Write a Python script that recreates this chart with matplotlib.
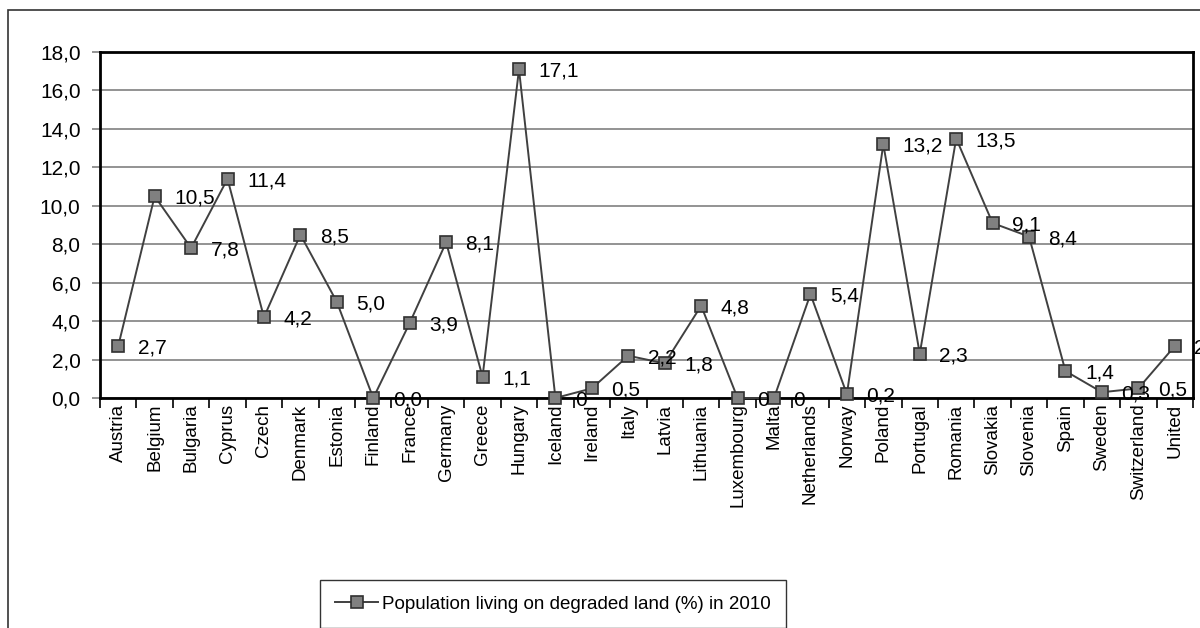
import numpy as np
import matplotlib.pyplot as plt
from matplotlib.patches import Rectangle
from matplotlib.ticker import FuncFormatter

plt.rcParams['font.family'] = ['Liberation Sans', 'DejaVu Sans']

countries = ['Austria', 'Belgium', 'Bulgaria', 'Cyprus', 'Czech', 'Denmark',
             'Estonia', 'Finland', 'France', 'Germany', 'Greece', 'Hungary',
             'Iceland', 'Ireland', 'Italy', 'Latvia', 'Lithuania', 'Luxembourg',
             'Malta', 'Netherlands', 'Norway', 'Poland', 'Portugal', 'Romania',
             'Slovakia', 'Slovenia', 'Spain', 'Sweden', 'Switzerland', 'United']
degraded = [2.7, 10.5, 7.8, 11.4, 4.2, 8.5, 5.0, 0.0, 3.9, 8.1, 1.1, 17.1,
            0, 0.5, 2.2, 1.8, 4.8, 0, 0, 5.4, 0.2, 13.2, 2.3, 13.5,
            9.1, 8.4, 1.4, 0.3, 0.5, 2.7]
# a few values were published without a decimal place
point_labels = ['2,7', '10,5', '7,8', '11,4', '4,2', '8,5', '5,0', '0,0', '3,9',
                '8,1', '1,1', '17,1', '0', '0,5', '2,2', '1,8', '4,8', '0', '0',
                '5,4', '0,2', '13,2', '2,3', '13,5', '9,1', '8,4', '1,4', '0,3',
                '0,5', '2,7']

fig = plt.figure(figsize=(12, 6.28), dpi=100)
ax = fig.add_axes([100 / 1200, 1 - 398 / 628, 1093 / 1200, 346 / 628])

# outer chart frame (runs off the right and bottom edges)
fig.patches.append(Rectangle((8 / 1200, -0.1), 1.2, 1 - 10 / 628 + 0.1,
                             transform=fig.transFigure, fill=False,
                             edgecolor='#333333', linewidth=1.2, zorder=0))

x = np.arange(len(countries))
ax.plot(x, degraded, color='#404040', linewidth=1.4, marker='s',
        markersize=8, markerfacecolor='#808080', markeredgecolor='#303030',
        markeredgewidth=1.2, label='Population living on degraded land (%) in 2010',
        zorder=3, clip_on=False)

for xi, yi, txt in zip(x, degraded, point_labels):
    ax.annotate(txt, (xi, yi), xytext=(14, -1.5), textcoords='offset points',
                ha='left', va='center', fontsize=15, zorder=4)

ax.set_xlim(-0.5, len(countries) - 0.5)
ax.set_ylim(0, 18)
ax.set_yticks(np.arange(0, 19, 2))
ax.yaxis.set_major_formatter(FuncFormatter(lambda v, p: f'{v:.1f}'.replace('.', ',')))
ax.grid(axis='y', color='#808080', linewidth=1.2)
ax.set_axisbelow(True)
ax.tick_params(axis='y', length=6, width=1.2, color='#808080', labelsize=15, pad=8)

ax.set_xticks(x)
ax.set_xticklabels(countries, rotation=90, fontsize=13.5)
ax.set_xticks(np.arange(-0.5, len(countries), 1), minor=True)
ax.tick_params(axis='x', which='major', length=0, pad=4)
ax.tick_params(axis='x', which='minor', length=7, width=1.2, color='black')

for side in ['left', 'bottom', 'top', 'right']:
    ax.spines[side].set_color('black')
    ax.spines[side].set_linewidth(2)

leg = fig.legend(loc='center', bbox_to_anchor=(553 / 1200, 1 - 604 / 628),
                 fontsize=13.5, frameon=True, fancybox=False, handlelength=2.3,
                 borderpad=0.8, borderaxespad=0, handletextpad=0.2)
leg.get_frame().set_edgecolor('black')
leg.get_frame().set_linewidth(1)

fig.savefig('out.png', dpi=100)
